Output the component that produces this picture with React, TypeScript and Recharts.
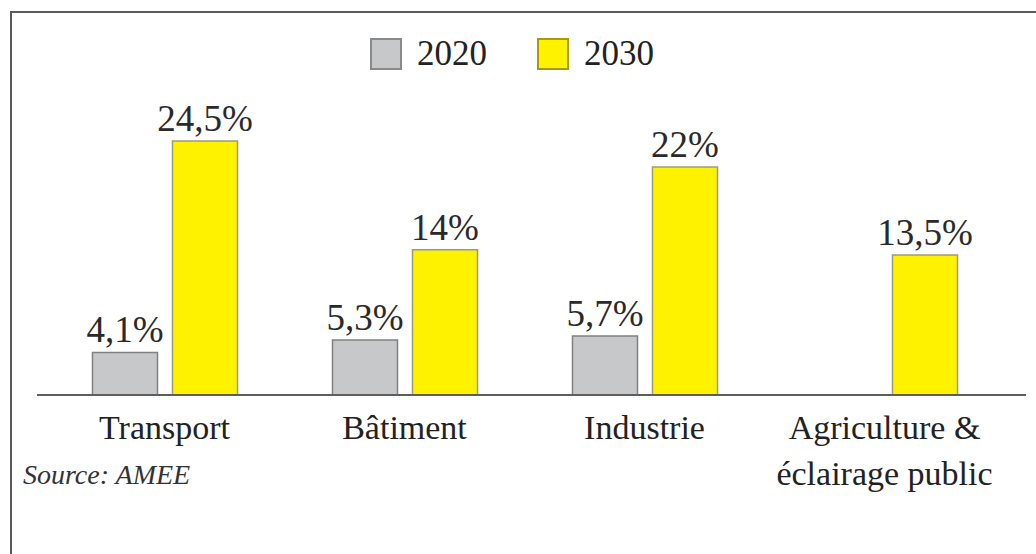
import { BarChart, Bar, XAxis, YAxis, LabelList } from "recharts";

const categories = ["Transport", "Bâtiment", "Industrie", "Agriculture &\néclairage public"];
const values2020: (number | null)[] = [4.1, 5.3, 5.7, null];
const values2030: number[] = [24.5, 14, 22, 13.5];

const series = [
  { key: "y2020", name: "2020", fill: "#c7c8ca", stroke: "#808080", legendStroke: "#8a8a8a" },
  { key: "y2030", name: "2030", fill: "#fff200", stroke: "#9a9a80", legendStroke: "#a89a00" },
];

const data = categories.map((c, i) => ({ name: c, y2020: values2020[i], y2030: values2030[i] }));

const FONT = '"Liberation Serif", "Times New Roman", serif';

const fmt = (v: any) => (v == null ? "" : `${String(v).replace(".", ",")}%`);

const Tick = ({ x, y, payload }: any) => {
  const lines = String(payload.value).split("\n");
  return (
    <g transform={`translate(${x},${y})`}>
      {lines.map((l, i) => (
        <text key={i} x={0} y={0} dy={36 + i * 46} textAnchor="middle" fill="#222" fontSize={34} fontFamily={FONT}>
          {l}
        </text>
      ))}
    </g>
  );
};

export default function App() {
  return (
    <div style={{ position: "absolute", left: 0, top: 0, width: 1036, height: 554, overflow: "hidden", background: "#fff" }}>
      <div style={{ position: "absolute", left: 10, top: 11, width: 1100, height: 700, border: "2px solid #5a5a5a" }} />
      <div style={{ position: "absolute", left: 0, top: 0 }}>
        <BarChart width={1036} height={554} data={data} margin={{ top: 84, right: 10, bottom: 59, left: 37 }} barSize={65} barGap={15}>
          <XAxis
            dataKey="name"
            height={100}
            interval={0}
            padding={{ left: 7.5, right: 21.5 }}
            axisLine={{ stroke: "#5e5e5e", strokeWidth: 2 }}
            tickLine={false}
            tick={<Tick />}
          />
          <YAxis hide domain={[0, 30]} />
          {series.map((s) => (
            <Bar key={s.key} dataKey={s.key} name={s.name} fill={s.fill} stroke={s.stroke} strokeWidth={1.5} isAnimationActive={false}>
              <LabelList dataKey={s.key} position="top" offset={10} formatter={fmt} fill="#2a2a2a" fontSize={37} fontFamily={FONT} />
            </Bar>
          ))}
        </BarChart>
      </div>
      <div style={{ position: "absolute", left: 370, top: 38, display: "flex", alignItems: "center", fontFamily: FONT, fontSize: 35, color: "#222" }}>
        {series.map((s, i) => (
          <div key={s.key} style={{ display: "flex", alignItems: "center", marginLeft: i === 0 ? 0 : 50 }}>
            <div style={{ width: 28, height: 28, background: s.fill, border: `2px solid ${s.legendStroke}`, marginRight: 15 }} />
            <span style={{ lineHeight: "32px" }}>{s.name}</span>
          </div>
        ))}
      </div>
      <div style={{ position: "absolute", left: 23, top: 461, fontFamily: FONT, fontStyle: "italic", fontSize: 28, lineHeight: 1, color: "#333" }}>
        Source: AMEE
      </div>
    </div>
  );
}
